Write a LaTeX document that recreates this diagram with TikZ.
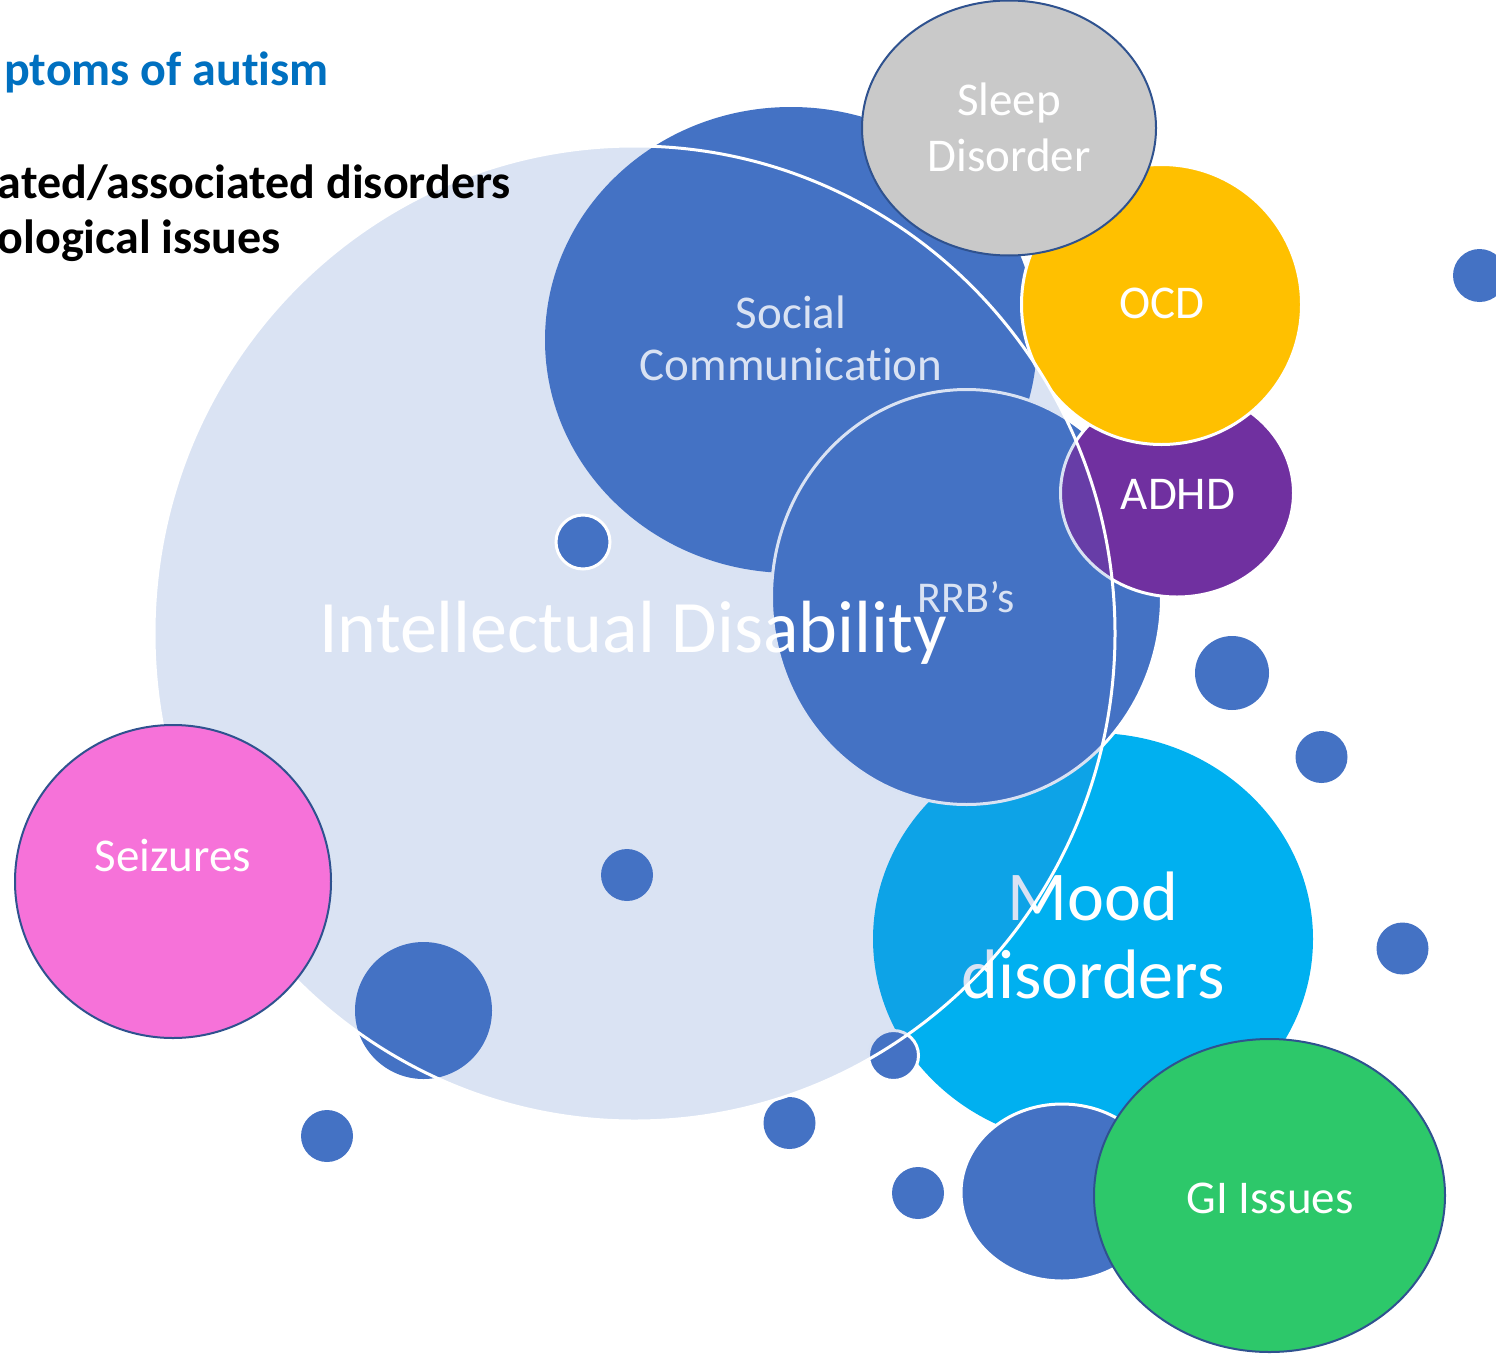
\documentclass[tikz,border=0pt]{standalone}
\usepackage{fontspec}
\setmainfont{Carlito}[Ligatures=CommonOff]

\definecolor{accent}{HTML}{4472C4}
\definecolor{rim}{HTML}{2F528F}
\definecolor{titleblue}{HTML}{0070C0}
\definecolor{moodblue}{HTML}{00B0F0}
\definecolor{ocdgold}{HTML}{FFC000}
\definecolor{adhdpurple}{HTML}{7030A0}
\definecolor{sleepgrey}{HTML}{C9C9C9}
\definecolor{seizurepink}{RGB}{246,114,217}
\definecolor{gigreen}{RGB}{45,200,106}

\begin{document}
\begin{tikzpicture}[x=1pt, y=-1pt,
    bubbletext/.style={text=white, align=center, inner sep=0pt,
                       font=\fontsize{47}{52}\selectfont}]
  \useasboundingbox (0,0) rectangle (1496,1354);

  % ---- bubbles under the intellectual disability field ----
  \fill[moodblue] (1093,939) ellipse (220 and 206);
  \node[bubbletext, font=\fontsize{70}{78}\selectfont] (mood) at (1093,935) {Mood\\disorders};

  \fill[accent] (791,340) ellipse (246 and 233);
  \node[bubbletext] (social) at (791,338) {Social\\Communication};

  % small dots: x, y, radius
  \foreach \x/\y/\r in {627/875/26, 423.5/1010.5/68.5, 789.5/1123/26, 918/1193/26,
                        1232/673/37, 1321.5/757/26, 1402.5/948.5/26,
                        1479.5/275.5/26.5, 327/1136/26}
    \fill[accent] (\x,\y) circle (\r);
  \filldraw[fill=accent, draw=white, line width=3pt] (893.5,1055.5) circle (25);
  \filldraw[fill=accent, draw=white, line width=3pt] (1062,1192.5) ellipse (101 and 88.5);

  \filldraw[fill=accent, draw=white, line width=3pt] (966.5,597) ellipse (195 and 207.5);
  \node[bubbletext, font=\fontsize{44}{50}\selectfont] (rrb) at (966.5,597) {RRB’s};

  \filldraw[fill=adhdpurple, draw=white, line width=3pt] (1177,493) ellipse (116.5 and 104);
  \node[bubbletext] (adhd) at (1178,494) {ADHD};

  \filldraw[fill=ocdgold, draw=white, line width=3pt] (1161.5,304.5) circle (140);
  \node[bubbletext] (ocd) at (1162,303) {OCD};

  % ---- the big field: a thin wash of blue with a white rim ----
  \filldraw[fill=accent, fill opacity=0.2, draw=white, line width=3pt]
    (634.5,633.5) ellipse (480.5 and 487.5);
  \node[bubbletext, font=\fontsize{74}{80}\selectfont] (intellectual) at (633,633)
    {Intellectual Disability};

  \filldraw[fill=accent, draw=white, line width=3pt] (583,542) circle (27);

  % ---- bubbles on top, with a dark rim ----
  \begin{scope}[line width=2pt, draw=rim]
    \filldraw[fill=sleepgrey]   (1009,128)      ellipse (147 and 127.5);
    \filldraw[fill=seizurepink] (173,881.5)     ellipse (158 and 156.5);
    \filldraw[fill=gigreen]     (1269.5,1195.5) ellipse (175.5 and 156.5);
  \end{scope}
  \node[bubbletext, font=\fontsize{47}{56}\selectfont] (sleep) at (1009,127) {Sleep\\Disorder};
  \node[bubbletext] (seizures) at (173,855) {Seizures};
  \node[bubbletext] (gi) at (1270,1198) {GI Issues};

  % ---- headings, running off the left edge ----
  \begin{scope}[every node/.style={anchor=base east, inner sep=0pt,
                font=\fontsize{48}{57}\selectfont\bfseries}]
    \node[text=titleblue] (symptoms) at (329,85) {ptoms of autism};
    \node (associated) at (511,198) {ated/associated disorders};
    \node (neuro)      at (281,253) {ological issues};
  \end{scope}
\end{tikzpicture}
\end{document}
